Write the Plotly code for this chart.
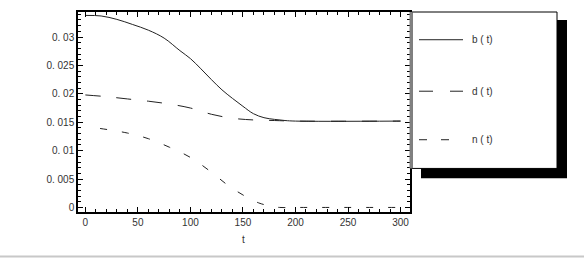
import plotly.graph_objects as go

# ---- data ----
t_b = [0, 15, 30, 45, 60, 75, 90, 100, 110, 120, 130, 140, 150, 160, 170, 180, 190, 200, 300]
b_vals = [0.0338, 0.0337, 0.0331, 0.0322, 0.0312, 0.0298, 0.0276, 0.0262, 0.0244, 0.0225,
          0.0207, 0.0192, 0.0178, 0.0165, 0.0158, 0.0155, 0.0153, 0.0152, 0.0152]

t_d = [0, 20, 40, 60, 80, 100, 120, 140, 160, 180, 200, 300]
d_vals = [0.0198, 0.0195, 0.0191, 0.0187, 0.0182, 0.0175, 0.0164, 0.0157, 0.0154, 0.0153, 0.0152, 0.0152]

t_n = [14, 40, 60, 80, 100, 120, 135, 150, 165, 175, 185, 200, 300]
n_vals = [0.0139, 0.0131, 0.0121, 0.0106, 0.0088, 0.0062, 0.0040, 0.0022, 0.0008, 0.0003, 0.0, 0.0, 0.0]

x_ticks = [0, 50, 100, 150, 200, 250, 300]
y_ticks = [0, 0.005, 0.01, 0.015, 0.02, 0.025, 0.03]
y_ticktext = ["0", "0. 005", "0. 01", "0. 015", "0. 02", "0. 025", "0. 03"]
legend_names = ["b ( t)", "d ( t)", "n ( t)"]

# ---- layout geometry (pixels) ----
W, H = 584, 259
L, R, T, B = 78, 410, 10, 212
pw, ph = R - L, B - T


def px(x):
    return (x - L) / pw


def py(y):
    return (B - y) / ph


fig = go.Figure()
line_col = "#222222"
fig.add_trace(go.Scatter(x=t_b, y=b_vals, mode="lines", line=dict(color=line_col, width=1, shape="spline"),
                         showlegend=False))
fig.add_trace(go.Scatter(x=t_d, y=d_vals, mode="lines",
                         line=dict(color=line_col, width=1, dash="15px,16px", shape="spline"), showlegend=False))
fig.add_trace(go.Scatter(x=t_n, y=n_vals, mode="lines",
                         line=dict(color=line_col, width=1, dash="7px,15px", shape="spline"), showlegend=False))

shapes = []
# bottom gray rule
shapes.append(dict(type="line", xref="paper", yref="paper", x0=px(0), x1=px(W), y0=py(257), y1=py(257),
                   line=dict(color="#c8c8c8", width=2), layer="above"))
# legend shadow
shapes.append(dict(type="rect", xref="paper", yref="paper", x0=px(421), x1=px(567), y0=py(178), y1=py(18),
                   fillcolor="black", line=dict(width=0), layer="above"))
# legend box
shapes.append(dict(type="rect", xref="paper", yref="paper", x0=px(412), x1=px(557), y0=py(168), y1=py(10),
                   fillcolor="white", line=dict(color="black", width=1), layer="above"))
shapes.append(dict(type="line", xref="paper", yref="paper", x0=px(411), x1=px(411), y0=py(168), y1=py(10),
                   line=dict(color="#808080", width=3), layer="above"))
# legend samples
shapes.append(dict(type="line", xref="paper", yref="paper", x0=px(419), x1=px(463), y0=py(38), y1=py(38),
                   line=dict(color=line_col, width=1), layer="above"))
shapes.append(dict(type="line", xref="paper", yref="paper", x0=px(419), x1=px(463), y0=py(90), y1=py(90),
                   line=dict(color=line_col, width=1, dash="14px,17px"), layer="above"))
shapes.append(dict(type="line", xref="paper", yref="paper", x0=px(419), x1=px(463), y0=py(139), y1=py(139),
                   line=dict(color=line_col, width=1, dash="8px,14px"), layer="above"))

annotations = []
for name, yy in zip(legend_names, [38, 90, 139]):
    annotations.append(dict(text=name, xref="paper", yref="paper", x=px(470), y=py(yy), xanchor="left",
                            yanchor="middle", showarrow=False, font=dict(family="Arial", size=10, color="#333")))
annotations.append(dict(text="t", xref="paper", yref="paper", x=px(243), y=py(240), xanchor="center",
                        yanchor="middle", showarrow=False, font=dict(family="Arial", size=10, color="#333")))

fig.update_layout(
    width=W, height=H,
    margin=dict(l=L, r=W - R, t=T, b=H - B, pad=0),
    paper_bgcolor="white", plot_bgcolor="white",
    shapes=shapes, annotations=annotations,
    font=dict(family="Arial", size=10, color="#333"),
)
fig.update_xaxes(range=[-7, 309], tickvals=x_ticks, ticks="inside", ticklen=5, tickcolor="black",
                 showline=True, linecolor="black", linewidth=1.5, mirror="allticks", showgrid=False,
                 zeroline=False, tickfont=dict(family="Arial", size=10, color="#333"),
                 minor=dict(ticks="inside", ticklen=3, dtick=10, tick0=0, tickcolor="black", showgrid=False))
fig.update_yaxes(range=[-0.0008, 0.0344], tickvals=y_ticks, ticktext=y_ticktext, ticks="inside", ticklen=5,
                 tickcolor="black", showline=True, linecolor="black", linewidth=1.5, mirror="allticks",
                 showgrid=False, zeroline=False, tickfont=dict(family="Arial", size=10, color="#333"),
                 minor=dict(ticks="inside", ticklen=3, dtick=0.001, tick0=0, tickcolor="black", showgrid=False))

fig.write_html("out.html")
